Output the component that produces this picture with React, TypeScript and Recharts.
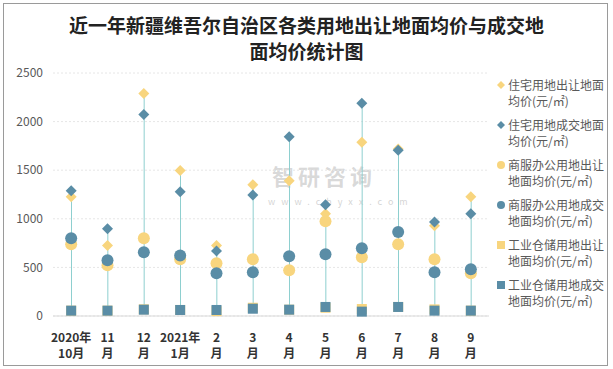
import React from "react";
import {
  ComposedChart,
  Bar,
  Scatter,
  XAxis,
  YAxis,
  CartesianGrid,
} from "recharts";

const months = [
  "2020年|10月",
  "11|月",
  "12|月",
  "2021年|1月",
  "2|月",
  "3|月",
  "4|月",
  "5|月",
  "6|月",
  "7|月",
  "8|月",
  "9|月",
];

// 住宅用地
const resSell = [1227, 725, 2289, 1498, 725, 1351, 1392, 1052, 1787, 1718, 928, 1227];
const resDeal = [1289, 897, 2072, 1278, 670, 1244, 1845, 1144, 2189, 1705, 966, 1052];
// 商服办公用地
const comSell = [739, 522, 801, 584, 543, 584, 471, 976, 605, 739, 584, 440];
const comDeal = [801, 574, 657, 622, 440, 450, 615, 636, 698, 863, 450, 481];
// 工业仓储用地
const indSell = [55, 55, 69, 62, 50, 85, 65, 85, 72, 93, 68, 55];
const indDeal = [55, 55, 65, 62, 62, 75, 65, 93, 45, 93, 55, 55];

const yTicks = [0, 500, 1000, 1500, 2000, 2500];

const YELLOW = "#F8D57E";
const BLUE = "#5A8DA6";
const LINE = "#8ECFCF";

const legendItems = [
  { name: "住宅用地出让地面均价(元/㎡)", color: YELLOW, shape: "diamond" },
  { name: "住宅用地成交地面均价(元/㎡)", color: BLUE, shape: "diamond" },
  { name: "商服办公用地出让地面均价(元/㎡)", color: YELLOW, shape: "circle" },
  { name: "商服办公用地成交地面均价(元/㎡)", color: BLUE, shape: "circle" },
  { name: "工业仓储用地出让地面均价(元/㎡)", color: YELLOW, shape: "square" },
  { name: "工业仓储用地成交地面均价(元/㎡)", color: BLUE, shape: "square" },
];

const data = months.map((m, i) => {
  const vals = [resSell[i], resDeal[i], comSell[i], comDeal[i], indSell[i], indDeal[i]];
  return {
    month: m,
    resSell: resSell[i],
    resDeal: resDeal[i],
    comSell: comSell[i],
    comDeal: comDeal[i],
    indSell: indSell[i],
    indDeal: indDeal[i],
    range: [Math.min(...vals), Math.max(...vals)],
  };
});

const font = "'Microsoft YaHei', 'Noto Sans CJK SC', sans-serif";

function makeShape(kind: string, color: string) {
  return (props: any) => {
    const { cx, cy } = props;
    if (cx == null || cy == null) return <g />;
    if (kind === "diamond") {
      const r = 5.5;
      return (
        <polygon
          points={`${cx},${cy - r} ${cx + r},${cy} ${cx},${cy + r} ${cx - r},${cy}`}
          fill={color}
        />
      );
    }
    if (kind === "circle") {
      return <circle cx={cx} cy={cy} r={6} fill={color} />;
    }
    return <rect x={cx - 5} y={cy - 5} width={10} height={10} fill={color} />;
  };
}

function MonthTick(props: any) {
  const { x, y, payload } = props;
  const [a, b] = String(payload.value).split("|");
  return (
    <g transform={`translate(${x},${y})`}>
      <text textAnchor="middle" fontSize={12} fontWeight={700} fill="#333" fontFamily={font}>
        <tspan x={0} dy={18}>{a}</tspan>
        <tspan x={0} dy={16}>{b}</tspan>
      </text>
    </g>
  );
}

function LegendBox() {
  return (
    <div style={{ fontFamily: font, fontSize: 12, color: "#595959", lineHeight: "16px" }}>
      {legendItems.map((it) => (
        <div key={it.name} style={{ display: "flex", marginBottom: 8 }}>
          <svg width={12} height={16} style={{ flex: "none" }}>
            {it.shape === "diamond" && <polygon points="5,4 9,8 5,12 1,8" fill={it.color} />}
            {it.shape === "circle" && <circle cx={5} cy={8} r={4} fill={it.color} />}
            {it.shape === "square" && <rect x={1} y={4} width={8} height={8} fill={it.color} />}
          </svg>
          <span style={{ width: 96 }}>{it.name}</span>
        </div>
      ))}
    </div>
  );
}

export default function App() {
  return (
    <div
      style={{
        position: "absolute",
        left: 0,
        top: 0,
        width: 613,
        height: 369,
        background: "#fff",
        fontFamily: font,
      }}
    >
      <div
        style={{
          position: "absolute",
          left: 3,
          top: 3,
          width: 603,
          height: 361,
          border: "1px solid #9a9a9a",
        }}
      />
      <div
        style={{
          position: "absolute",
          left: 0,
          top: 12,
          width: 613,
          textAlign: "center",
          fontSize: 19,
          fontWeight: 700,
          lineHeight: "26px",
          color: "#222",
          fontFamily: "'Noto Sans CJK SC', serif",
        }}
      >
        近一年新疆维吾尔自治区各类用地出让地面均价与成交地
        <br />
        面均价统计图
      </div>
      <div
        style={{
          position: "absolute",
          left: 272,
          top: 162,
          color: "rgba(170,170,170,0.45)",
          fontSize: 22,
          fontWeight: 700,
          letterSpacing: 4,
          lineHeight: "26px",
        }}
      >
        智研咨询
      </div>
      <div
        style={{
          position: "absolute",
          left: 268,
          top: 197,
          color: "rgba(170,170,170,0.5)",
          fontSize: 9,
          letterSpacing: 6,
          lineHeight: "10px",
        }}
      >
        www.chyxx.com
      </div>
      <div style={{ position: "absolute", left: 496, top: 77, width: 114 }}>
        <LegendBox />
      </div>
      <ComposedChart
        width={613}
        height={369}
        data={data}
        margin={{ top: 73, right: 124, bottom: 0, left: 0 }}
        style={{ position: "absolute", left: 0, top: 0 }}
      >
        <CartesianGrid vertical={false} stroke="#e6e6e6" strokeDasharray="2 2" />
        <XAxis
          dataKey="month"
          height={53}
          tickLine={false}
          axisLine={{ stroke: "#d9d9d9" }}
          tick={<MonthTick />}
          interval={0}
        />
        <YAxis
          width={53}
          domain={[0, 2500]}
          ticks={yTicks}
          tickLine={false}
          axisLine={false}
          tickMargin={4}
          tick={{ fontSize: 12, fill: "#595959", fontFamily: font }}
        />
        <Bar dataKey="range" barSize={1} fill={LINE} isAnimationActive={false} legendType="none" />
        <Scatter dataKey="indSell" fill={YELLOW} shape={makeShape("square", YELLOW)} isAnimationActive={false} />
        <Scatter dataKey="indDeal" fill={BLUE} shape={makeShape("square", BLUE)} isAnimationActive={false} />
        <Scatter dataKey="comSell" fill={YELLOW} shape={makeShape("circle", YELLOW)} isAnimationActive={false} />
        <Scatter dataKey="comDeal" fill={BLUE} shape={makeShape("circle", BLUE)} isAnimationActive={false} />
        <Scatter dataKey="resSell" fill={YELLOW} shape={makeShape("diamond", YELLOW)} isAnimationActive={false} />
        <Scatter dataKey="resDeal" fill={BLUE} shape={makeShape("diamond", BLUE)} isAnimationActive={false} />
      </ComposedChart>
    </div>
  );
}
